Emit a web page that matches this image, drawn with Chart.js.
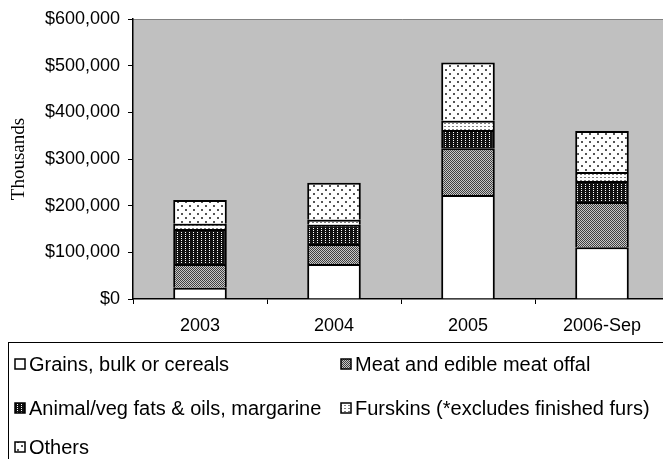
<!DOCTYPE html>
<html lang="en">
<head>
	<meta charset="UTF-8">
	<title>Exports by category</title>
	<script src="https://cdn.jsdelivr.net/npm/chart.js@4.4.1/dist/chart.umd.min.js"></script>
	<style>
		body { margin: 0; overflow: hidden; background: #fff; }
		#wrap { width: 672px; height: 459px; }
	</style>
</head>
<body>

	<div id="wrap"><canvas id="barChart"></canvas></div>

	<script>
	// values (dollars, in thousands)
	var years = ["2003", "2004", "2005", "2006-Sep"];
	var grains = [24000, 75000, 223000, 111000];
	var meat = [51000, 43000, 100000, 97000];
	var fats = [75000, 41000, 39000, 45000];
	var furs = [11000, 11000, 20000, 19000];
	var others = [51000, 79000, 125000, 88000];

	var seriesNames = [
		"Grains, bulk or cereals",
		"Meat and edible meat offal",
		"Animal/veg fats & oils, margarine",
		"Furskins (*excludes finished furs)",
		"Others"
	];

	//small tiled fills to mimic the old hatch patterns
	function makePattern(w, h, bg, fg, dots) {
		var c = document.createElement("canvas");
		c.width = w;
		c.height = h;
		var g = c.getContext("2d");
		g.fillStyle = bg;
		g.fillRect(0, 0, w, h);
		g.fillStyle = fg;
		for (var i = 0; i < dots.length; i++) {
			g.fillRect(dots[i][0], dots[i][1], dots[i][2] || 1, dots[i][3] || 1);
		}
		return g.createPattern(c, "repeat");
	}

	var fills = [
		"#ffffff",
		makePattern(2, 2, "#c8c8c8", "#404040", [[0, 0], [1, 1]]),
		makePattern(4, 2, "#111111", "#ffffff", [[1, 0]]),
		makePattern(4, 3, "#ffffff", "#808080", [[0, 0, 2, 1]]),
		makePattern(8, 8, "#ffffff", "#555555", [[1, 1, 2, 2], [5, 5, 2, 2]])
	];

	var values = [grains, meat, fats, furs, others];
	var datasets = [];
	for (var i = 0; i < values.length; i++) {
		datasets.push({
			label: seriesNames[i],
			data: values[i],
			backgroundColor: fills[i],
			borderColor: "#000",
			borderWidth: 2,
			barPercentage: 0.4,
			categoryPercentage: 1
		});
	}

	var plotBg = {
		id: "plotBg",
		beforeDraw: function(chart) {
			var a = chart.chartArea, ctx = chart.ctx;
			ctx.save();
			ctx.fillStyle = "#c0c0c0";
			ctx.fillRect(a.left, a.top, chart.width - a.left, a.bottom - a.top);
			ctx.strokeStyle = "#808080";
			ctx.lineWidth = 1;
			ctx.beginPath();
			ctx.moveTo(a.left, a.top + 0.5);
			ctx.lineTo(chart.width, a.top + 0.5);
			ctx.stroke();
			ctx.restore();
		}
	};

	//legend box drawn under the axis like the original
	var boxLegend = {
		id: "boxLegend",
		afterDraw: function(chart) {
			var ctx = chart.ctx;
			ctx.save();
			ctx.strokeStyle = "#000";
			ctx.lineWidth = 1;
			ctx.strokeRect(8.5, 342.5, chart.width, 140);
			ctx.font = "20px 'Liberation Sans', Arial, sans-serif";
			ctx.textBaseline = "middle";
			var spots = [[15, 364], [341, 364], [15, 408], [341, 408], [15, 447]];
			for (var i = 0; i < seriesNames.length; i++) {
				var x = spots[i][0], y = spots[i][1];
				ctx.fillStyle = fills[i];
				ctx.fillRect(x, y - 5, 10, 10);
				ctx.strokeStyle = "#000";
				ctx.lineWidth = 1.5;
				ctx.strokeRect(x, y - 5, 10, 10);
				ctx.fillStyle = "#000";
				ctx.fillText(seriesNames[i], x + 14, y + 1);
			}
			ctx.restore();
		}
	};

	var ctx = document.getElementById("barChart").getContext("2d");

	var myChart = new Chart(ctx, {
		type: "bar",
		data: {
			labels: years,
			datasets: datasets
		},
		plugins: [plotBg, boxLegend],
		options: {
			responsive: true,
			maintainAspectRatio: false,
			animation: false,
			layout: { padding: { top: 19, right: 3, bottom: 120, left: 0 } },
			plugins: {
				legend: { display: false },
				tooltip: { enabled: false }
			},
			scales: {
				x: {
					stacked: true,
					afterFit: function(scale) { scale.height = 40; },
					grid: {
						drawOnChartArea: false,
						drawTicks: true,
						tickLength: 5,
						tickColor: "#000",
						offset: true
					},
					border: { color: "#000", width: 1.5 },
					ticks: {
						color: "#000",
						padding: 11,
						font: { family: "'Liberation Sans', Arial", size: 18 }
					}
				},
				y: {
					stacked: true,
					min: 0,
					max: 600000,
					afterFit: function(scale) { scale.width = 133; },
					title: {
						display: true,
						text: "Thousands",
						color: "#000",
						padding: { top: 8, bottom: 0 },
						font: { family: "'Liberation Serif', 'Times New Roman', serif", size: 19 }
					},
					grid: {
						drawOnChartArea: false,
						drawTicks: true,
						tickLength: 5,
						tickColor: "#000"
					},
					border: { color: "#000", width: 1.5 },
					ticks: {
						stepSize: 100000,
						color: "#000",
						padding: 8,
						font: { family: "'Liberation Sans', Arial", size: 18 },
						callback: function(v) { return "$" + v.toLocaleString("en-US"); }
					}
				}
			}
		}
	});
	</script>

</body>
</html>
